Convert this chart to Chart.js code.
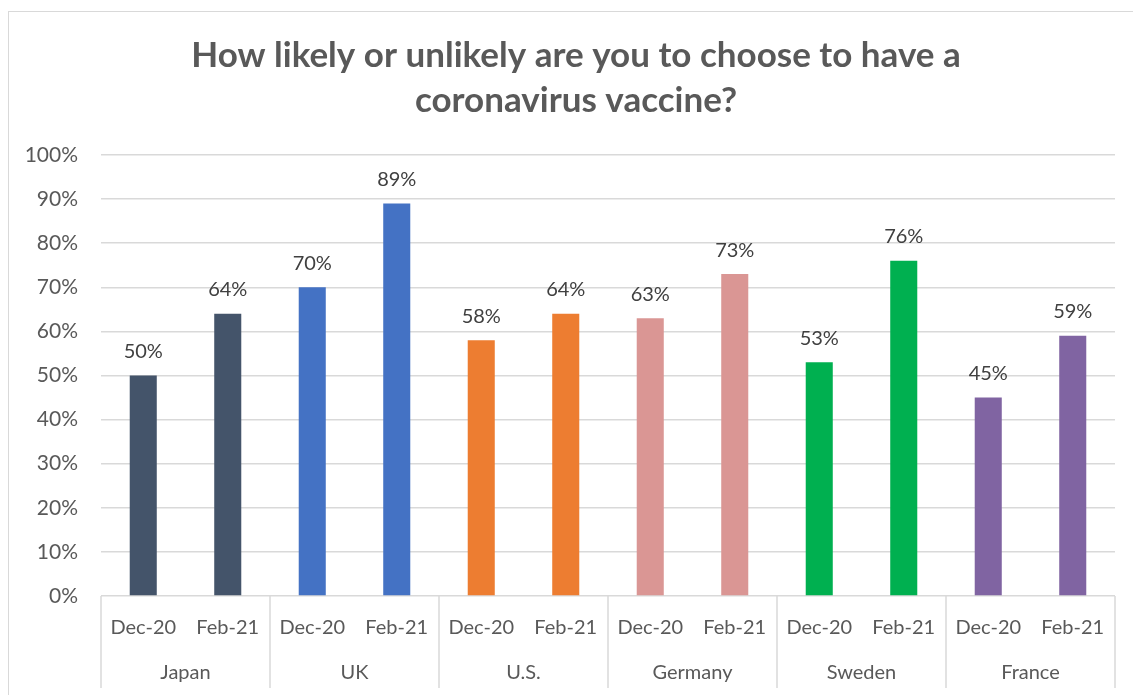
<!DOCTYPE html>
<html>
<head>
<meta charset="utf-8">
<script src="https://cdn.jsdelivr.net/npm/chart.js@4"></script>
<style>
  html, body { margin: 0; padding: 0; background: #fff; }
  #marco { position: absolute; left: 8px; top: 11px; width: 1130px; height: 700px;
           border-left: 1px solid #d9d9d9; border-top: 1px solid #d9d9d9; }
  #caja { position: absolute; left: 0; top: 0; width: 1133px; height: 695px; }
</style>
</head>
<body>
<div id="marco"></div>
<div id="caja"><canvas id="vacuna"></canvas></div>
<script>
const paises = ['Japan', 'UK', 'U.S.', 'Germany', 'Sweden', 'France'];
const periodos = ['Dec-20', 'Feb-21'];
const dic20 = [50, 70, 58, 63, 53, 45];
const feb21 = [64, 89, 64, 73, 76, 59];
const colores = ['#44546A', '#4472C4', '#ED7D31', '#DA9694', '#00B050', '#8064A2'];
const ticksY = [0, 10, 20, 30, 40, 50, 60, 70, 80, 90, 100];
const titulo = ['How likely or unlikely are you to choose to have a', 'coronavirus vaccine?'];

const fuente = 'Lato, "Open Sans", sans-serif';

// una barra por pais y periodo
const etiquetas = [];
const valores = [];
const coloresBarra = [];
paises.forEach((p, i) => {
    etiquetas.push(periodos[0], periodos[1]);
    valores.push(dic20[i], feb21[i]);
    coloresBarra.push(colores[i], colores[i]);
});

// titulo centrado en el marco, no en el area del grafico
const tituloMarco = {
    id: 'tituloMarco',
    afterDraw(chart) {
        const c = chart.ctx;
        c.save();
        c.font = 'bold 35px ' + fuente;
        c.fillStyle = '#595959';
        c.textAlign = 'center';
        c.textBaseline = 'middle';
        titulo.forEach((linea, i) => c.fillText(linea, 576, 56 + i * 45));
        c.restore();
    }
};

// porcentaje encima de cada barra
const etiquetasValor = {
    id: 'etiquetasValor',
    afterDatasetsDraw(chart) {
        const c = chart.ctx;
        const meta = chart.getDatasetMeta(0);
        c.save();
        c.font = '20px ' + fuente;
        c.fillStyle = '#404040';
        c.textAlign = 'center';
        c.textBaseline = 'middle';
        meta.data.forEach((bar, i) => {
            c.fillText(valores[i] + '%', bar.x, bar.y - 24);
        });
        c.restore();
    }
};

// separadores y nombres de pais bajo el eje
const grupos = {
    id: 'grupos',
    afterDraw(chart) {
        const c = chart.ctx;
        const x = chart.scales.x;
        const area = chart.chartArea;
        const paso = (x.right - x.left) / paises.length;
        c.save();
        c.strokeStyle = '#d9d9d9';
        c.lineWidth = 1.5;
        for (let i = 0; i <= paises.length; i++) {
            const px = x.left + i * paso;
            c.beginPath();
            c.moveTo(px, area.bottom);
            c.lineTo(px, 688);
            c.stroke();
        }
        c.font = '20px ' + fuente;
        c.fillStyle = '#595959';
        c.textAlign = 'center';
        c.textBaseline = 'middle';
        paises.forEach((p, i) => {
            const centro = (x.getPixelForValue(2 * i) + x.getPixelForValue(2 * i + 1)) / 2;
            c.fillText(p, centro, 673);
        });
        c.restore();
    }
};

const config = {
    type: 'bar',
    data: {
        labels: etiquetas,
        datasets: [{
            data: valores,
            backgroundColor: coloresBarra,
            categoryPercentage: 1,
            barPercentage: 0.32
        }]
    },
    options: {
        responsive: false,
        animation: false,
        layout: { padding: { left: 0, right: 18, top: 155, bottom: 0 } },
        plugins: {
            legend: { display: false },
            tooltip: { enabled: false },
            title: { display: false }
        },
        scales: {
            x: {
                grid: { display: false },
                border: { display: false },
                ticks: {
                    color: '#595959',
                    font: { family: fuente, size: 20 },
                    padding: 12,
                    maxRotation: 0,
                    autoSkip: false
                },
                afterFit(s) { s.height = 99; }
            },
            y: {
                min: 0,
                max: 100,
                afterBuildTicks(s) { s.ticks = ticksY.map(v => ({ value: v })); },
                grid: { color: '#d9d9d9', lineWidth: 1.5, drawTicks: false },
                border: { display: false },
                ticks: {
                    color: '#595959',
                    font: { family: fuente, size: 21 },
                    padding: 23,
                    callback: v => v + '%'
                },
                afterFit(s) { s.width = 101; }
            }
        }
    },
    plugins: [tituloMarco, etiquetasValor, grupos]
};

const canvas = document.getElementById('vacuna');
canvas.width = 1133;
canvas.height = 695;
new Chart(canvas, config);
</script>
</body>
</html>
